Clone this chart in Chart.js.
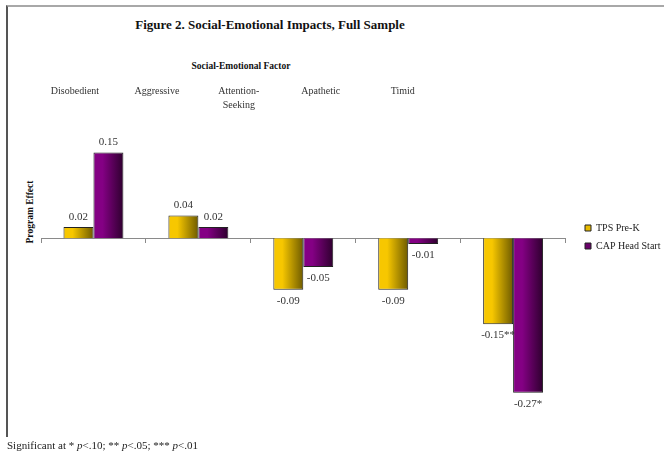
<!DOCTYPE html>
<html>
<head>
<meta charset="utf-8">
<title>Figure 2. Social-Emotional Impacts, Full Sample</title>
<script src="https://cdn.jsdelivr.net/npm/chart.js@4"></script>
<style>
  body { margin: 0; background: #fff; font-family: "Liberation Serif", serif; }
  #page { position: relative; width: 664px; height: 455px; overflow: hidden; }
  #frame { position: absolute; left: 6px; top: 5px; width: 658px; height: 432px; box-sizing: border-box;
           border-top: 2px solid #a8a8a8; border-left: 2px solid #555; }
  #chart-box { position: absolute; left: 0; top: 0; width: 664px; height: 455px; }
  .txt { position: absolute; white-space: nowrap; color: #111; }
  #title { left: 0; width: 540px; top: 16px; line-height: 18px; text-align: center; font-weight: bold; font-size: 13px; }
  #factor { left: 141px; width: 200px; top: 60px; line-height: 12px; text-align: center; font-weight: bold; font-size: 9.5px; }
  #effect { left: -20px; width: 100px; top: 206px; line-height: 12px; text-align: center; font-weight: bold; font-size: 9.5px;
            transform: rotate(-90deg); }
  #note { left: 7px; top: 438px; line-height: 14px; font-size: 11px; color: #222; }
</style>
</head>
<body>
<div id="page">
  <div id="frame"></div>
  <div id="title" class="txt">Figure 2. Social-Emotional Impacts, Full Sample</div>
  <div id="factor" class="txt">Social-Emotional Factor</div>
  <div id="effect" class="txt">Program Effect</div>
  <div id="chart-box"><canvas id="impact-chart"></canvas></div>
  <div id="note" class="txt">Significant at * <i>p</i>&lt;.10; ** <i>p</i>&lt;.05; *** <i>p</i>&lt;.01</div>
</div>
<script>
// Factors and program effects
const factors = ['Disobedient', 'Aggressive', 'Attention-Seeking', 'Apathetic', 'Timid'];
const factorLines = [['Disobedient'], ['Aggressive'], ['Attention-', 'Seeking'], ['Apathetic'], ['Timid']];
const tpsEffect = [0.02, 0.04, -0.09, -0.09, -0.15];
const capEffect = [0.15, 0.02, -0.05, -0.01, -0.27];
const tpsStars = ['', '', '', '', '**'];
const capStars = ['', '', '', '', '*'];

Chart.defaults.font.family = '"Liberation Serif", serif';
Chart.defaults.color = '#333';

const catPct = 0.571;

// Left-to-right shaded fill for each bar, worked out from the x scale
function barFill(light, dark) {
    return function(c) {
        const chart = c.chart;
        const xs = chart.scales.x;
        if (c.type !== 'data' || !xs || !chart.chartArea) return light;
        const half = (xs.width / factors.length) * catPct / 2;
        const left = xs.getPixelForValue(c.dataIndex) - half + c.datasetIndex * half;
        const g = chart.ctx.createLinearGradient(left, 0, left + half, 0);
        g.addColorStop(0, light);
        g.addColorStop(0.3, light);
        g.addColorStop(1, dark);
        return g;
    };
}

// Value text above positive bars, below negative ones
const valueLabels = {
    id: 'valueLabels',
    afterDatasetsDraw(chart) {
        const ctx = chart.ctx;
        ctx.save();
        ctx.font = '11px "Liberation Serif", serif';
        ctx.fillStyle = '#333';
        ctx.textAlign = 'center';
        ctx.textBaseline = 'middle';
        chart.data.datasets.forEach((ds, i) => {
            chart.getDatasetMeta(i).data.forEach((bar, j) => {
                const v = ds.data[j];
                const y = v >= 0 ? bar.y - 10 : bar.y + 11;
                ctx.fillText(v.toFixed(2) + ds.stars[j], bar.x, y);
            });
        });
        ctx.restore();
    }
};

// Legend sits a little apart from the plot, level with the zero line
const legendSpot = {
    id: 'legendSpot',
    afterLayout(chart) {
        const lg = chart.legend;
        const w = lg.right - lg.left;
        const h = lg.bottom - lg.top;
        lg.left = 577; lg.right = 577 + w;
        lg.top = 215; lg.bottom = 215 + h;
    }
};

const legendSwatch = ['#e8bb00', '#6a006a'];

new Chart(document.getElementById('impact-chart').getContext('2d'), {
    type: 'bar',
    data: {
        labels: factors,
        datasets: [
            {
                label: 'TPS Pre-K',
                data: tpsEffect,
                stars: tpsStars,
                backgroundColor: barFill('#f7c700', '#6e5b00'),
                borderColor: '#222',
                borderWidth: 1,
                categoryPercentage: catPct,
                barPercentage: 1
            },
            {
                label: 'CAP Head Start',
                data: capEffect,
                stars: capStars,
                backgroundColor: barFill('#840084', '#2e002e'),
                borderColor: '#222',
                borderWidth: 1,
                categoryPercentage: catPct,
                barPercentage: 1
            }
        ]
    },
    options: {
        responsive: true,
        maintainAspectRatio: false,
        animation: false,
        layout: {
            padding: { top: 80, left: 41, right: 5, bottom: 45 }
        },
        plugins: {
            title: { display: false },
            tooltip: { enabled: false },
            legend: {
                position: 'right',
                align: 'start',
                labels: {
                    boxWidth: 6,
                    boxHeight: 6,
                    padding: 8,
                    color: '#222',
                    font: { size: 10 },
                    generateLabels: chart => chart.data.datasets.map((ds, i) => ({
                        text: ds.label,
                        fillStyle: legendSwatch[i],
                        strokeStyle: '#222',
                        lineWidth: 1,
                        hidden: false,
                        datasetIndex: i,
                        fontColor: '#222'
                    }))
                }
            }
        },
        scales: {
            x: {
                type: 'category',
                position: { y: 0 },
                offset: true,
                ticks: { display: false },
                grid: {
                    offset: true,
                    drawOnChartArea: false,
                    drawTicks: true,
                    tickLength: 4,
                    color: '#8a8a8a'
                },
                border: { color: '#8a8a8a', width: 1 }
            },
            factorRow: {
                type: 'linear',
                position: 'top',
                offset: false,
                min: -0.4146,
                max: 5.9878,
                afterBuildTicks: axis => {
                    axis.ticks = factors.map((f, i) => ({ value: i }));
                },
                ticks: {
                    autoSkip: false,
                    maxRotation: 0,
                    padding: 4,
                    crossAlign: 'far',
                    color: '#333',
                    font: { size: 10, lineHeight: 1.4 },
                    callback: value => factorLines[value]
                },
                grid: { display: false, drawTicks: false, offset: false },
                border: { display: false }
            },
            y: {
                display: false,
                min: -0.3,
                max: 0.2138
            }
        }
    },
    plugins: [valueLabels, legendSpot]
});
</script>
</body>
</html>
